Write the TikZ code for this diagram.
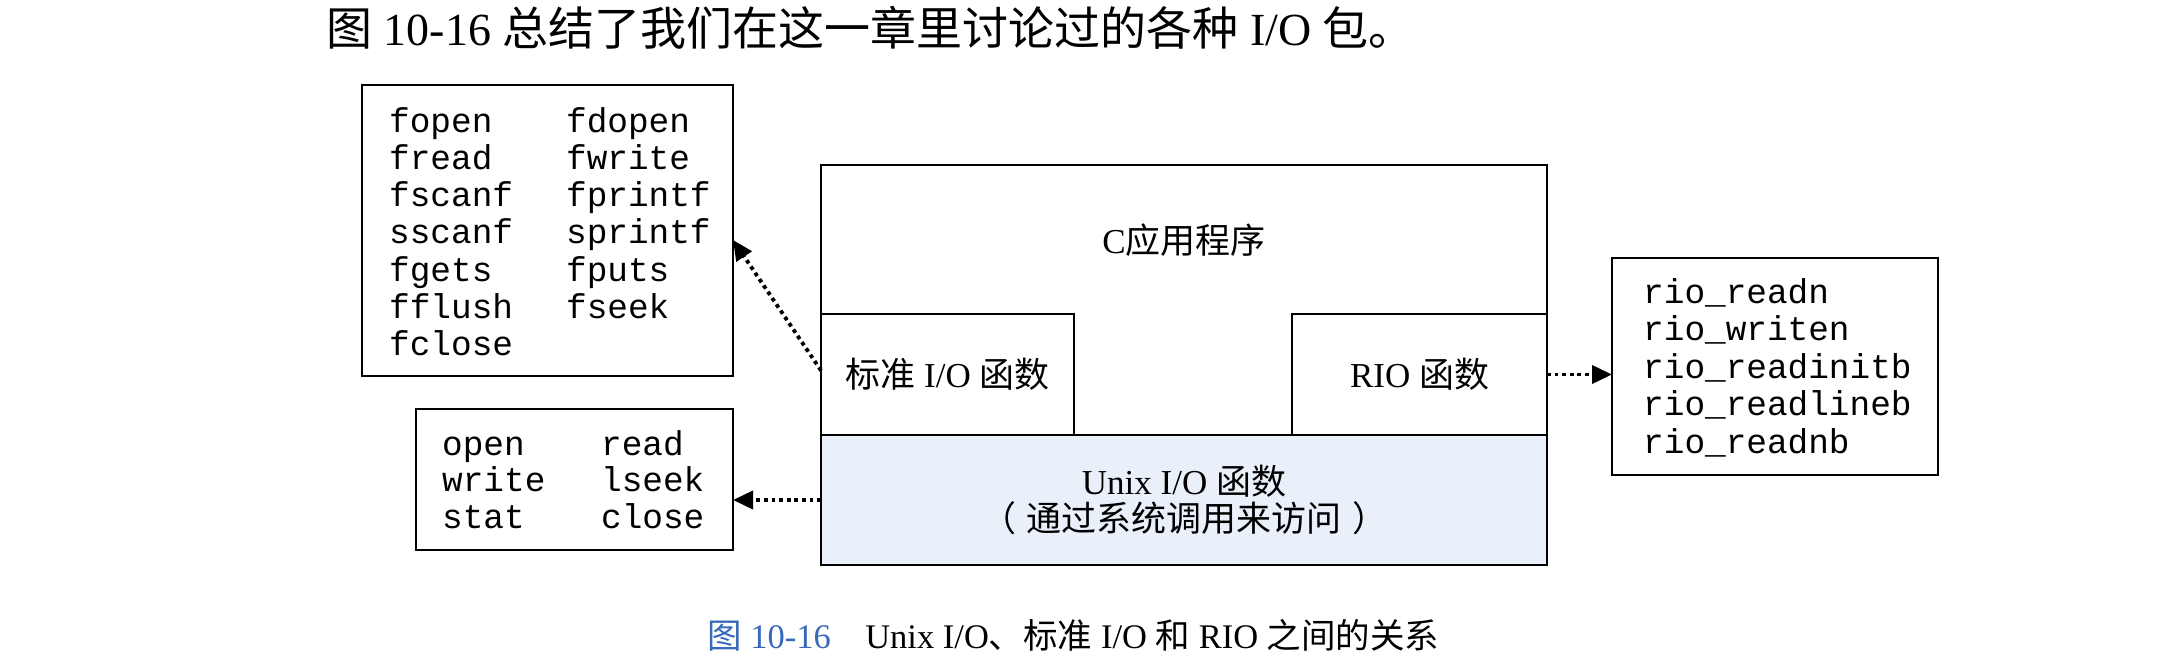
\documentclass[tikz,border=0pt]{standalone}
\usepackage{fontspec}
\setmainfont{Liberation Serif}
\setmonofont{Liberation Mono}
\newfontfamily\cjk{Noto Sans CJK SC}
\usetikzlibrary{arrows.meta}
\newcommand\zhs[1]{{\cjk #1}}
\definecolor{unixfill}{RGB}{233,240,250}
\definecolor{capblue}{RGB}{55,105,185}
\begin{document}
\begin{tikzpicture}[x=1pt,y=-1pt,
  box/.style={draw=black, line width=2.8pt, inner sep=0pt, outer sep=0pt, fill=white},
  lbl/.style={font=\fontsize{35}{37}\selectfont, inner sep=0pt, align=center},
  listtxt/.style={anchor=base west, inner sep=0pt, font=\fontsize{34.4}{37.3}\selectfont\ttfamily},
  dotarrow/.style={line width=3.8pt, dash pattern=on 3.8pt off 3.8pt, -{Triangle[length=20pt,width=18pt]}}]
\fill[white] (0,0) rectangle (2160,656);
\useasboundingbox (0,0) rectangle (2160,656);
% header
\node[anchor=base west, inner sep=0pt, font=\fontsize{46}{50}\selectfont] (head) at (326,45)
  {\zhs{图} 10-16 \zhs{总结了我们在这一章里讨论过的各种} I/O \zhs{包。}};
% main stack
\node[box, minimum width=726pt, minimum height=400pt] (main) at (1184,365) {};
\node[lbl] (app) at (1184,240) {C\zhs{应用程序}};
\node[box, fill=unixfill, minimum width=726pt, minimum height=130pt, lbl] (unix) at (1184,500)
  {Unix I/O \zhs{函数}\\\zhs{（\hspace{0.3em}通过系统调用来访问\hspace{0.3em}）}};
\node[box, minimum width=253pt, minimum height=121pt, lbl] (std) at (947.5,374.5) {\zhs{标准} I/O \zhs{函数}};
\node[box, minimum width=255pt, minimum height=121pt, lbl] (rio) at (1419.5,374.5) {RIO \zhs{函数}};
% lists
\node[box, minimum width=371pt, minimum height=291pt] (flist) at (547.5,230.5) {};
\node[listtxt] (flisttext) at (389,132) {\begin{tabular}[t]{@{}p{177pt}@{}l@{}}
fopen & fdopen\\ fread & fwrite\\ fscanf & fprintf\\ sscanf & sprintf\\ fgets & fputs\\ fflush & fseek\\ fclose & \end{tabular}};
\node[box, minimum width=317pt, minimum height=141pt] (ulist) at (574.5,479.5) {};
\node[listtxt, font=\fontsize{34.4}{36.7}\selectfont\ttfamily] (ulisttext) at (442,455) {\begin{tabular}[t]{@{}p{159pt}@{}l@{}}
open & read\\ write & lseek\\ stat & close\end{tabular}};
\node[box, minimum width=326pt, minimum height=217pt] (rlist) at (1775,366.5) {};
\node[listtxt, font=\fontsize{34.4}{37.5}\selectfont\ttfamily] (rlisttext) at (1643,303) {\begin{tabular}[t]{@{}l@{}}
rio\_readn\\ rio\_writen\\ rio\_readinitb\\ rio\_readlineb\\ rio\_readnb\end{tabular}};
% arrows
\draw[dotarrow] ([yshift=4pt]std.west) -- ([yshift=-9.5pt]flist.east);
\draw[dotarrow] (unix.west) -- (ulist.east |- unix.west);
\draw[dotarrow] (rio.east) -- (rlist.west |- rio.east);
% caption
\node[anchor=base west, inner sep=0pt, font=\fontsize{34.5}{38}\selectfont] (cap) at (707,648)
  {{\color{capblue}\zhs{图} 10-16}\quad Unix I/O\zhs{、标准} I/O \zhs{和} RIO \zhs{之间的关系}};
\end{tikzpicture}
\end{document}
